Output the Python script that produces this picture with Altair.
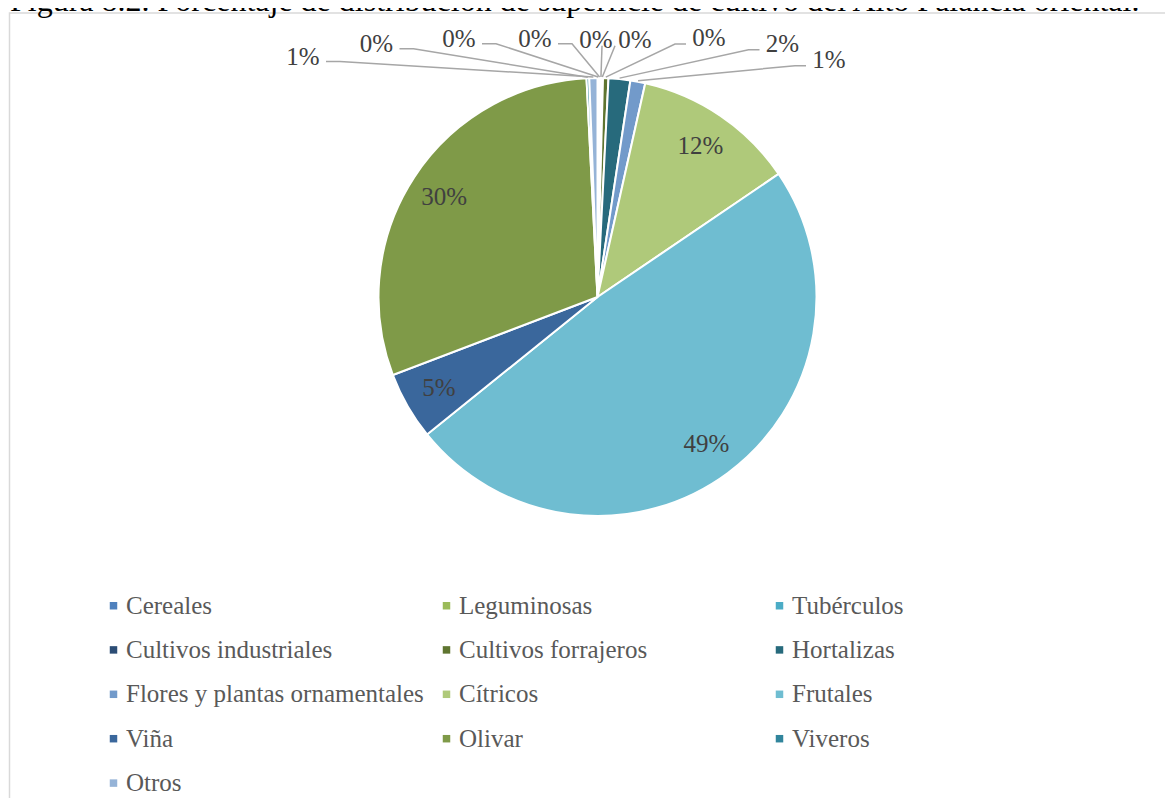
import math
import altair as alt
import pandas as pd

TITLE = "Figura 8.2. Porcentaje de distribución de superficie de cultivo del Alto Palancia oriental."

categories = [
    "Cereales", "Leguminosas", "Tubérculos", "Cultivos industriales",
    "Cultivos forrajeros", "Hortalizas", "Flores y plantas ornamentales",
    "Cítricos", "Frutales", "Viña", "Olivar", "Viveros", "Otros",
]
shares = [0.1, 0.1, 0.1, 0.1, 0.4, 1.6, 1.1, 12.0, 48.7, 5.0, 30.0, 0.2, 0.6]
colors = [
    "#4F81BD", "#9BBB59", "#4BACC6", "#2C4D75", "#5F7530", "#276A7C",
    "#729ACA", "#AFC97A", "#6FBDD1", "#3A679C", "#7F9A48", "#31859C", "#95B3D7",
]

# ---- layout (not data) ----
W, H = 1157, 790
CX, CY, R = 589.5, 289.0, 219.0
INNER_R = 183
LABEL_FONT = "Liberation Serif"
callout_order = ["Otros", "Viveros", "Cereales", "Leguminosas", "Tubérculos",
                 "Cultivos industriales", "Cultivos forrajeros", "Hortalizas",
                 "Flores y plantas ornamentales"]
callout_xy = [(295, 48.5), (368.5, 35.7), (451, 30.7), (527, 30.7), (588, 31.7),
              (627, 31.7), (701, 30.0), (774.5, 35.7), (821, 51.7)]
callout_side = ["L", "L", "L", "L", "B1", "B2", "R", "R", "R"]

total = sum(shares)
df = pd.DataFrame({"cat": categories, "share": shares, "idx": list(range(len(categories)))})
df["inner"] = [f"{round(s / total * 100)}%" if s >= 3 else "" for s in shares]

# mid angles of slices (clockwise from 12 o'clock)
mid = {}
acc = 0.0
for c, s in zip(categories, shares):
    mid[c] = (acc + s / 2) / total * 2 * math.pi
    acc += s

lab_rows, line_rows = [], []
for c, (x, y), side in zip(callout_order, callout_xy, callout_side):
    s = shares[categories.index(c)]
    lab_rows.append({"cat": c, "x": x, "y": y, "label": f"{round(s / total * 100)}%"})
    a = mid[c]
    ex, ey = CX + (R + 1) * math.sin(a), CY - (R + 1) * math.cos(a)
    if side == "L":
        pts = [(x + 23, y + 5), (x + 37, y + 5), (ex, ey)]
    elif side == "R":
        pts = [(x - 23, y + 6), (x - 34, y + 6), (ex, ey)]
    elif side == "B1":
        pts = [(x + 6, y + 6), (ex, ey)]
    else:
        pts = [(x - 20, y + 6), (ex, ey)]
    for k, (px, py) in enumerate(pts):
        line_rows.append({"cat": c, "k": k, "x": px, "y": py})
lab_df = pd.DataFrame(lab_rows)
line_df = pd.DataFrame(line_rows)
title_df = pd.DataFrame({"t": [TITLE]})

border = alt.Chart(title_df).mark_rect(filled=False, stroke="#D9D9D9", strokeWidth=1.5).encode(
    x=alt.value(1.5), y=alt.value(5), x2=alt.value(1400), y2=alt.value(1400)
)

title = alt.Chart(title_df).mark_text(
    align="left", baseline="alphabetic", font=LABEL_FONT, fontSize=32, color="#000000"
).encode(x=alt.value(2), y=alt.value(3), text="t:N")

pie = alt.Chart(df).mark_arc(radius=R, stroke="white", strokeWidth=2).encode(
    theta=alt.Theta("share:Q", stack=True),
    order=alt.Order("idx:Q"),
    color=alt.Color(
        "cat:N",
        scale=alt.Scale(domain=categories, range=colors),
        sort=categories,
        legend=alt.Legend(
            title=None, orient="none", legendX=93, legendY=585, columns=3,
            direction="horizontal",
            gridAlign="all", symbolType="square", symbolSize=56, symbolStrokeWidth=0,
            labelFont=LABEL_FONT, labelFontSize=25, labelColor="#595959",
            labelOffset=0, rowPadding=18.4, columnPadding=10, padding=0, labelLimit=400,
        ),
    ),
    x=alt.value(CX), y=alt.value(CY),
)

inner = alt.Chart(df).mark_text(
    radius=INNER_R, font=LABEL_FONT, fontSize=25, color="#404040"
).encode(
    theta=alt.Theta("share:Q", stack=True),
    order=alt.Order("idx:Q"),
    detail="cat:N",
    text="inner:N",
    x=alt.value(CX), y=alt.value(CY),
)

leaders = alt.Chart(line_df).mark_line(color="#A6A6A6", strokeWidth=1.5).encode(
    x=alt.X("x:Q", scale=None, axis=None),
    y=alt.Y("y:Q", scale=None, axis=None),
    detail="cat:N",
    order="k:Q",
)

callouts = alt.Chart(lab_df).mark_text(
    font=LABEL_FONT, fontSize=25, color="#404040", align="center", baseline="middle"
).encode(
    x=alt.X("x:Q", scale=None, axis=None),
    y=alt.Y("y:Q", scale=None, axis=None),
    text="label:N",
)

chart = alt.layer(border, title, pie, inner, leaders, callouts).properties(
    width=W, height=H, autosize=alt.AutoSizeParams(type="none"), padding=0
).configure_view(stroke=None)

chart.save("out.html", embed_options={"renderer": "svg", "actions": False})
